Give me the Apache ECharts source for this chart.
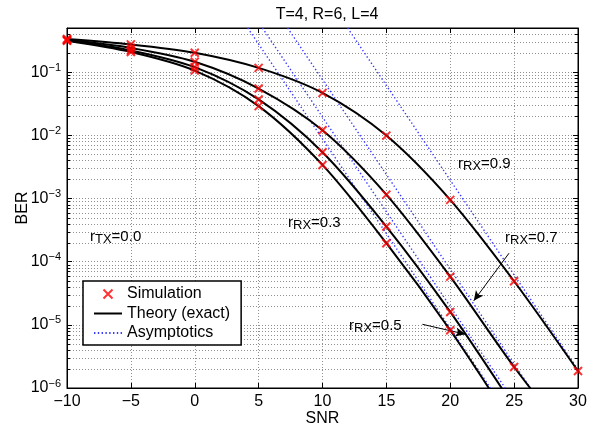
<!DOCTYPE html>
<html><head><meta charset="utf-8">
<script src="https://cdn.jsdelivr.net/npm/echarts@6/dist/echarts.min.js"></script>
<style>html,body{margin:0;padding:0;background:#fff}#c{width:602px;height:434px}</style>
</head><body><div id="c"></div>
<script>
// ---- data ----
const snr = [-10, -5, 0, 5, 10, 15, 20, 25, 30];
const xTicks = [-10, -5, 0, 5, 10, 15, 20, 25, 30];
// Simulation markers (BER) per receive correlation
const sim03 = [0.315, 0.209, 0.106, 0.029, 0.0034, 1.96e-4, 8.2e-6];
const sim05 = [0.32, 0.221, 0.12, 0.037, 0.0054, 3.6e-4, 1.6e-5];
const sim07 = [0.325, 0.242, 0.146, 0.055, 0.012, 1.15e-3, 5.8e-5, 2.15e-6];
const sim09 = [0.335, 0.275, 0.203, 0.117, 0.047, 0.0099, 9.5e-4, 4.9e-5, 1.86e-6];
// Theory (exact) curves
const thSnr = [-10, -5, 0, 5, 10, 15, 20, 25, 30];
const th03 = [0.315, 0.209, 0.106, 0.029, 0.0034, 1.96e-4, 8.2e-6, 2.4e-7];
const th05 = [0.32, 0.221, 0.12, 0.037, 0.0054, 3.6e-4, 1.6e-5, 5.0e-7];
const th07 = [0.325, 0.242, 0.146, 0.055, 0.012, 1.15e-3, 5.8e-5, 2.15e-6, 1.1e-7];
const th09 = [0.335, 0.275, 0.203, 0.117, 0.047, 0.0099, 9.5e-4, 4.9e-5, 1.86e-6];
// Asymptotes: straight lines (SNR at BER=0.5 and at BER=1e-6)
const asymBer = [0.5, 1e-6];
const asym03 = [4.15, 23.15];
const asym05 = [5.3, 24.3];
const asym07 = [7.27, 26.27];
const asym09 = [11.97, 30.97];
const yMin = 1e-6, yMax = 0.5;

// ---- build ----
const FONT = 'Liberation Sans';
const pairs = (xs, ys) => ys.map((y, i) => [xs[i], y]);
const simData = [].concat(pairs(snr, sim03), pairs(snr, sim05), pairs(snr, sim07), pairs(snr, sim09));

const minorVals = [];
for (let e = -6; e <= -1; e++) {
  for (let m = 2; m <= 9; m++) {
    const v = m * Math.pow(10, e);
    if (v < yMax * 0.999) minorVals.push(v);
  }
}

const theoryStyle = { color: '#000', width: 2 };
const asymStyle = { color: '#3a3aff', width: 1.4, type: [1.4, 2.4] };
const NOSYM = { color: 'rgba(0,0,0,0)', borderWidth: 0 };
function theory(ys) {
  return { type: 'line', name: 'Theory (exact)', data: pairs(thSnr, ys), symbol: 'none', smooth: 0.3,
    lineStyle: theoryStyle, itemStyle: NOSYM, z: 4, clip: true };
}
function asym(xs) {
  return { type: 'line', name: 'Asymptotics', data: pairs(xs, asymBer), symbol: 'none',
    lineStyle: asymStyle, itemStyle: NOSYM, z: 3, clip: true };
}

const supFmt = v => {
  const l = Math.log10(v), e = Math.round(l);
  if (Math.abs(l - e) > 1e-6) return '';
  return '{b|10}{s|' + (e < 0 ? '\u2212' + (-e) : e) + '}';
};
const RICH = { s: { fontSize: 13, fontFamily: FONT, fill: '#000' }, m: { fontSize: 15, fontFamily: FONT, fill: '#000', padding: [0, 0, 6, 0] } };
function note(x, y, sub, val) {
  return { type: 'text', x: x, y: y, z: 10, style: { text: '{m|r}{s|' + sub + '}{m|=' + val + '}', fill: '#000', rich: RICH } };
}

const chart = echarts.init(document.getElementById('c'), null, { renderer: 'canvas' });
chart.setOption({
  animation: false,
  backgroundColor: '#fff',
  textStyle: { fontFamily: FONT },
  title: { text: 'T=4, R=6, L=4', left: 322, top: 2, textAlign: 'center',
    textStyle: { fontFamily: FONT, fontSize: 16, fontWeight: 'normal', color: '#000' } },
  grid: { left: 67, right: 24, top: 28, bottom: 46, show: true, borderColor: '#000', borderWidth: 1,
    backgroundColor: 'transparent', containLabel: false, outerBoundsMode: 'none' },
  legend: {
    orient: 'vertical', left: 83, top: 281, width: 166,
    backgroundColor: '#fff', borderColor: '#000', borderWidth: 1.5, padding: [5, 11, 4, 10],
    itemWidth: 28, itemHeight: 9, itemGap: 3.5,
    textStyle: { fontFamily: FONT, fontSize: 16, color: '#000', lineHeight: 16 },
    data: ['Simulation', 'Theory (exact)', 'Asymptotics'],
    selectedMode: false
  },
  xAxis: [
    { type: 'value', min: -10, max: 30, interval: 5, position: 'bottom',
      name: 'SNR', nameLocation: 'middle', nameGap: 23, nameMoveOverlap: false,
      nameTextStyle: { fontFamily: FONT, fontSize: 16, color: '#000' },
      axisLine: { show: true, onZero: false, lineStyle: { color: '#000', width: 1 } },
      axisTick: { show: true, inside: true, length: 5, lineStyle: { color: '#000' } },
      axisLabel: { fontFamily: FONT, fontSize: 16, color: '#000', margin: 6,
        formatter: v => (v < 0 ? '\u2212' + (-v) : '' + v) },
      splitLine: { show: true, lineStyle: { color: '#909090', type: [1, 2], width: 1 } } },
    { type: 'value', min: -10, max: 30, interval: 5, position: 'top',
      axisLine: { show: true, onZero: false, lineStyle: { color: '#000' } },
      axisTick: { show: true, inside: true, length: 5, lineStyle: { color: '#000' } },
      axisLabel: { show: false }, splitLine: { show: false } }
  ],
  yAxis: [
    { type: 'log', logBase: 10, min: yMin, max: yMax, position: 'left',
      name: 'BER', nameLocation: 'middle', nameGap: 36, nameMoveOverlap: false,
      nameTextStyle: { fontFamily: FONT, fontSize: 16, color: '#000' },
      axisLine: { show: true, onZero: false, lineStyle: { color: '#000', width: 1 } },
      axisTick: { show: true, inside: true, length: 5, lineStyle: { color: '#000' } },
      axisLabel: { margin: 6, formatter: supFmt,
        rich: { b: { fontFamily: FONT, fontSize: 16, color: '#000' },
                s: { fontFamily: FONT, fontSize: 11, color: '#000', padding: [0, 0, 9, 0] } } },
      splitLine: { show: true, lineStyle: { color: '#909090', type: [1, 2], width: 1 } } },
    { type: 'log', logBase: 10, min: yMin, max: yMax, position: 'right',
      axisLine: { show: true, onZero: false, lineStyle: { color: '#000' } },
      axisTick: { show: true, inside: true, length: 5, lineStyle: { color: '#000' } },
      axisLabel: { show: false }, splitLine: { show: false } }
  ],
  graphic: [
    note(90, 229, 'TX', '0.0'),
    note(288, 215, 'RX', '0.3'),
    note(458, 156, 'RX', '0.9'),
    note(505, 230, 'RX', '0.7'),
    note(349, 318, 'RX', '0.5')
  ],
  series: [
    { type: 'custom', name: 'minorGrid', silent: true, z: 1,
      data: minorVals.map(v => [-10, v]),
      renderItem: (params, api) => {
        const v = api.value(1);
        const p1 = api.coord([-10, v]), p2 = api.coord([30, v]);
        const y = Math.round(p1[1]) + 0.5;
        return { type: 'group', children: [
          { type: 'line', shape: { x1: p1[0], y1: y, x2: p2[0], y2: y }, style: { stroke: '#909090', lineWidth: 1, lineDash: [1, 2] } },
          { type: 'line', shape: { x1: p1[0], y1: y, x2: p1[0] + 3, y2: y }, style: { stroke: '#000', lineWidth: 1 } },
          { type: 'line', shape: { x1: p2[0] - 3, y1: y, x2: p2[0], y2: y }, style: { stroke: '#000', lineWidth: 1 } }
        ] };
      } },
    asym(asym03), asym(asym05), asym(asym07), asym(asym09),
    theory(th03), theory(th05), theory(th07), theory(th09),
    { type: 'scatter', name: 'Simulation', data: simData, z: 6,
      symbol: 'path://M0,0L10,10M10,0L0,10', symbolSize: 8,
      itemStyle: { color: 'rgba(0,0,0,0)', borderColor: '#ff0000', borderWidth: 2 } },
    { type: 'line', name: 'arrows', data: [], z: 7, silent: true,
      markLine: { silent: true, symbol: ['none', 'arrow'], symbolSize: [7, 10], label: { show: false },
        lineStyle: { color: '#000', width: 1, type: 'solid' },
        data: [
          [{ coord: [24.6, 1.36e-4] }, { coord: [21.84, 2.4e-5] }],
          [{ coord: [17.82, 1.02e-5] }, { coord: [21.19, 7.1e-6] }]
        ] } }
  ]
});
</script></body></html>
